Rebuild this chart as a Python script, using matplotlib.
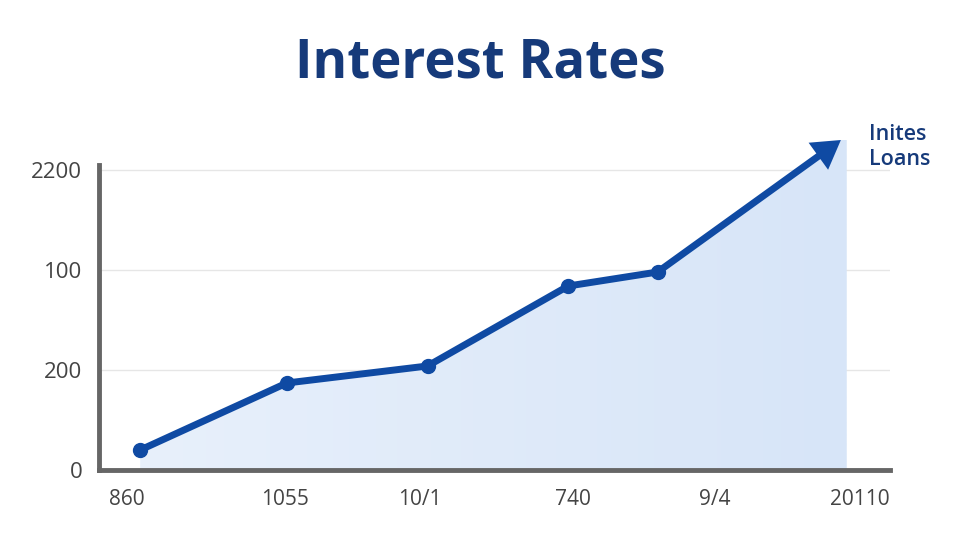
import matplotlib
matplotlib.use("Agg")
import matplotlib.pyplot as plt
import numpy as np
from matplotlib.colors import LinearSegmentedColormap

# Data
x_labels = ["860", "1055", "10/1", "740", "9/4", "20110"]
x_ticks = [0, 1.08, 2.0, 3.04, 4.01, 5.0]
y_labels = ["0", "200", "100", "2200"]
x_vals = [0.09, 1.09, 2.05, 3.01, 3.62]
y_vals = [0.20, 0.87, 1.04, 1.84, 1.98]
arrow_x = 4.87
arrow_y = 3.30
fill_end_x = 4.91
legend_labels = ["Inites", "Loans"]

NAVY = "#163a7a"
LINE = "#0f4aa3"

plt.rcParams['font.family'] = ['Open Sans', 'DejaVu Sans']

fig = plt.figure(figsize=(9.6, 5.4), dpi=100)
ax = fig.add_axes([99/960, 70/540, 791/960, 305/540])
ax.set_xlim(-0.191, 5.205)
ax.set_ylim(0, 3.05)

# gradient fill under line
poly_x = [x_vals[0]] + x_vals + [arrow_x, fill_end_x, fill_end_x]
poly_y = [0] + y_vals + [arrow_y, arrow_y, 0]
poly = ax.fill(poly_x, poly_y, color="none", lw=0, clip_on=False)[0]
cmap = LinearSegmentedColormap.from_list("g", ["#e8f0fb", "#d7e5f8"])
grad = np.linspace(0, 1, 256).reshape(1, -1)
im = ax.imshow(grad, cmap=cmap, aspect="auto",
               extent=[x_vals[0], fill_end_x, 0, arrow_y],
               origin="lower", zorder=1)
im.set_clip_path(poly)
im.set_clip_box(fig.bbox)

# grid
for yv in [1, 2, 3]:
    ax.axhline(yv, color="#e6e6e6", lw=1, zorder=0.5)

# line
ax.plot(x_vals, y_vals, color=LINE, lw=5, zorder=3, solid_capstyle="round",
        solid_joinstyle="round")
ax.plot(x_vals, y_vals, "o", color=LINE, ms=10, zorder=4)
ax.annotate("", xy=(arrow_x, arrow_y), xytext=(x_vals[-1], y_vals[-1]),
            arrowprops=dict(width=5, headwidth=24, headlength=20,
                            color=LINE, shrink=0, lw=0),
            annotation_clip=False, zorder=3)

# axes styling
for s in ["top", "right"]:
    ax.spines[s].set_visible(False)
for s in ["left", "bottom"]:
    ax.spines[s].set_color("#666666")
    ax.spines[s].set_linewidth(3.5)
ax.set_xticks(x_ticks)
ax.set_xticklabels(x_labels, fontsize=15, color="#444444")
ax.set_yticks(range(len(y_labels)))
ax.set_yticklabels(y_labels, fontsize=16, color="#444444")
ax.tick_params(axis="both", length=0)
ax.tick_params(axis="x", pad=14)
ax.tick_params(axis="y", pad=12)

fig.text(0.5, 1 - 64/540, "Interest Rates", ha="center", va="center",
         fontsize=38, fontweight="bold", color=NAVY)
fig.text(869/960, 1 - 134/540, legend_labels[0], ha="left", va="center",
         fontsize=15.5, fontweight="semibold", color=NAVY)
fig.text(869/960, 1 - 159/540, legend_labels[1], ha="left", va="center",
         fontsize=15.5, fontweight="semibold", color=NAVY)

fig.savefig("out.png", dpi=100)
